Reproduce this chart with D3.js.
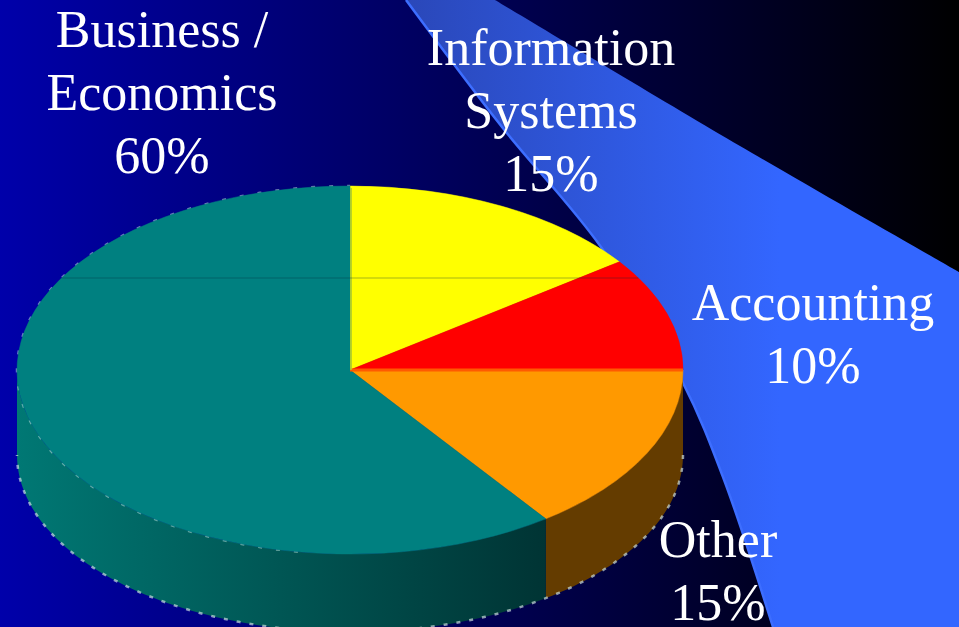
<!DOCTYPE html>
<html>
<head>
<meta charset="utf-8">
<script src="https://cdn.jsdelivr.net/npm/d3@7"></script>
<style>
  html, body { margin: 0; padding: 0; background: #000; }
  svg { display: block; }
</style>
</head>
<body>
<svg id="chart" width="959" height="627"></svg>
<script>
// ---------- data ----------
const categories = ["Information Systems", "Accounting", "Other", "Business / Economics"];
const values = [15, 10, 15, 60];
const labelLines = [
  ["Information", "Systems", "15%"],
  ["Accounting", "10%"],
  ["Other", "15%"],
  ["Business /", "Economics", "60%"]
];
const topColors = ["#ffff00", "#ff0000", "#ff9900", "#008080"];
const sideColors = ["#999900", "#990000", "#643c00", "url(#tealSide)"];

// ---------- layout ----------
const W = 959, H = 627;
const cx = 350, cy = 370, rx = 333, ry = 184;   // top ellipse
const cyB = 455, ryB = 177;                       // bottom ellipse
const labelPos = [
  { x: 551, y: 65 },
  { x: 813, y: 320 },
  { x: 718, y: 557 },
  { x: 162, y: 47 }
];
const lineH = 63;

const svg = d3.select("#chart");
const defs = svg.append("defs");

const bg = defs.append("linearGradient").attr("id", "bg")
  .attr("x1", 0).attr("x2", 1).attr("y1", 0).attr("y2", 0);
bg.append("stop").attr("offset", "0%").attr("stop-color", "#0000aa");
bg.append("stop").attr("offset", "100%").attr("stop-color", "#000000");

const band = defs.append("linearGradient").attr("id", "band")
  .attr("gradientUnits", "userSpaceOnUse")
  .attr("x1", 400).attr("x2", 780).attr("y1", 0).attr("y2", 0);
band.append("stop").attr("offset", "0%").attr("stop-color", "#2a47b8");
band.append("stop").attr("offset", "100%").attr("stop-color", "#3366ff");

const teal = defs.append("linearGradient").attr("id", "tealSide")
  .attr("gradientUnits", "userSpaceOnUse")
  .attr("x1", cx - rx).attr("x2", 545).attr("y1", 0).attr("y2", 0);
teal.append("stop").attr("offset", "0%").attr("stop-color", "#007874");
teal.append("stop").attr("offset", "100%").attr("stop-color", "#003434");

// background
svg.append("rect").attr("width", W).attr("height", H).attr("fill", "url(#bg)");

// decorative swoosh band
const leftEdge = [[406, 0], [502, 127], [601, 247], [683, 383], [723, 477], [773, 627]];
const rightEdge = [[495, 0], [740, 146], [959, 272]];
const lineGen = d3.line().curve(d3.curveCatmullRom.alpha(0.5));
const leftRev = lineGen(leftEdge.slice().reverse()).replace(/^M[^A-Za-z]*/, "L773,627");
svg.append("path")
  .attr("d", lineGen(rightEdge) + "L959,627" + leftRev + "Z")
  .attr("fill", "url(#band)");
svg.append("path")
  .attr("d", lineGen(leftEdge))
  .attr("fill", "none").attr("stroke", "#3d6eff").attr("stroke-width", 2.5);

// ---------- pie ----------
const pie = d3.pie().sort(null).startAngle(0).endAngle(2 * Math.PI).value(d => d);
const arcs = pie(values);

const topPt = a => [cx + rx * Math.sin(a), cy - ry * Math.cos(a)];
const botPt = a => [cx + rx * Math.sin(a), cyB - ryB * Math.cos(a)];

// side walls (front half only: angles between PI/2 and 3PI/2)
const sideG = svg.append("g");
arcs.forEach((d, i) => {
  const a0 = Math.max(d.startAngle, Math.PI / 2);
  const a1 = Math.min(d.endAngle, 3 * Math.PI / 2);
  if (a1 <= a0) return;
  const n = 80;
  const ts = d3.range(n + 1).map(k => a0 + (a1 - a0) * k / n);
  const pts = ts.map(topPt).concat(ts.slice().reverse().map(botPt));
  sideG.append("path")
    .attr("d", d3.line()(pts) + "Z")
    .attr("fill", sideColors[i]);
});

// light dotted aliasing along outer rim
const rimTs = d3.range(0, 121).map(k => Math.PI / 2 + Math.PI * k / 120);
sideG.append("path")
  .attr("d", d3.line()(rimTs.map(botPt)))
  .attr("fill", "none").attr("stroke", "rgba(215,235,230,0.65)")
  .attr("stroke-width", 2.5).attr("stroke-dasharray", "4 9");
const rimTop = d3.range(0, 121).map(k => 1.05 * Math.PI + 0.95 * Math.PI * k / 120);
sideG.append("path")
  .attr("d", d3.line()(rimTop.map(topPt)))
  .attr("fill", "none").attr("stroke", "rgba(190,225,220,0.55)")
  .attr("stroke-width", 2.5).attr("stroke-dasharray", "4 14");

// top faces
const arcGen = d3.arc().innerRadius(0).outerRadius(1);
const topG = svg.append("g").attr("transform", `translate(${cx},${cy}) scale(${rx},${ry})`);
topG.selectAll("path").data(arcs).join("path")
  .attr("d", arcGen)
  .attr("fill", (d, i) => topColors[i])
  .attr("stroke", (d, i) => topColors[i])
  .attr("stroke-width", 0.002);

// boundary accents
const [ex, ey] = topPt(arcs[1].endAngle);
svg.append("line").attr("x1", cx).attr("y1", cy).attr("x2", ex).attr("y2", ey)
  .attr("stroke", "#ff5a00").attr("stroke-width", 3);
const [sx, sy] = topPt(arcs[0].startAngle);
svg.append("line").attr("x1", cx + 1).attr("y1", cy).attr("x2", sx + 1).attr("y2", sy + 2)
  .attr("stroke", "#a8c830").attr("stroke-width", 2).attr("opacity", 0.8);

// faint chord line
const chordY = cy - ry / 2;
const half = rx * Math.sqrt(1 - 0.25);
svg.append("line").attr("x1", cx - half).attr("x2", cx + half)
  .attr("y1", chordY).attr("y2", chordY)
  .attr("stroke", "rgba(0,40,60,0.35)").attr("stroke-width", 1);

// ---------- labels ----------
const lblG = svg.append("g")
  .attr("font-family", "'Liberation Serif', 'Times New Roman', serif")
  .attr("font-size", 52)
  .attr("fill", "#ffffff")
  .attr("text-anchor", "middle");
labelLines.forEach((lines, i) => {
  const t = lblG.append("text").attr("x", labelPos[i].x).attr("y", labelPos[i].y);
  lines.forEach((ln, j) => {
    t.append("tspan").attr("x", labelPos[i].x).attr("dy", j === 0 ? 0 : lineH).text(ln);
  });
});
</script>
</body>
</html>
